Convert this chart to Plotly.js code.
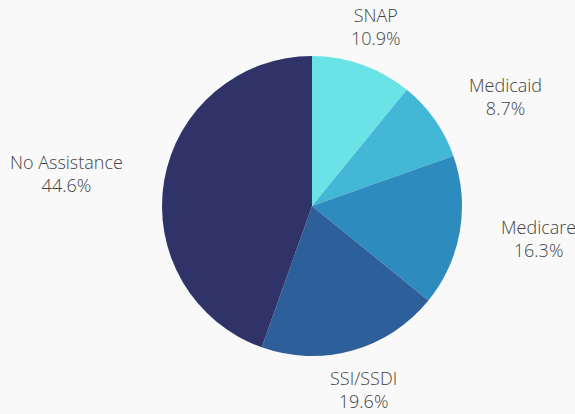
<!DOCTYPE html>
<html>
<head>
<meta charset="utf-8">
<script src="https://cdn.plot.ly/plotly-3.0.1.min.js"></script>
<style>html,body{margin:0;padding:0;background:#f9f9f9;}</style>
</head>
<body>
<div id="chart" style="width:575px;height:414px;"></div>
<script>
const labels = ["SNAP", "Medicaid", "Medicare", "SSI/SSDI", "No Assistance"];
const values = [10.9, 8.7, 16.3, 19.6, 44.6];
const colors = ["#6ae3e6", "#42b7d6", "#2e8bbd", "#2d5f9b", "#2f3368"];

const W = 575, H = 414;
const margin = {l: 49, r: 0, t: 56, b: 58};
const plotW = W - margin.l - margin.r, plotH = H - margin.t - margin.b;
const radiusPx = Math.min(plotW, plotH) / 2;
const labelRadiusPx = radiusPx * 1.267;

// Outside labels placed along each slice's middle angle (clockwise from 12 o'clock)
const total = values.reduce((a, b) => a + b, 0);
let cum = 0;
const annotations = labels.map((lab, i) => {
  const mid = (cum + values[i] / 2) / total * 2 * Math.PI;
  cum += values[i];
  const s = Math.sin(mid), c = Math.cos(mid);
  const x = 0.5 + labelRadiusPx * s / plotW;
  const y = 0.5 + labelRadiusPx * c / plotH;
  let xanchor = "center";
  if (s > 0.5) xanchor = "left";
  else if (s < -0.5) xanchor = "right";
  return {
    xref: "paper", yref: "paper", x: x, y: y,
    xanchor: xanchor, yanchor: "middle",
    text: lab + "<br>" + values[i].toFixed(1) + "%",
    showarrow: false, align: "center",
    font: {family: "Open Sans", size: 18, color: "#444444", weight: 300}
  };
});

Plotly.newPlot("chart", [{
  type: "pie",
  labels: labels,
  values: values,
  sort: false,
  direction: "clockwise",
  rotation: 0,
  marker: {colors: colors, line: {width: 0}},
  textinfo: "none",
  hoverinfo: "label+percent"
}], {
  width: W,
  height: H,
  showlegend: false,
  paper_bgcolor: "#f9f9f9",
  plot_bgcolor: "#f9f9f9",
  margin: margin,
  font: {family: "Open Sans", color: "#444444"},
  annotations: annotations
}, {displayModeBar: false, staticPlot: true});
</script>
</body>
</html>
